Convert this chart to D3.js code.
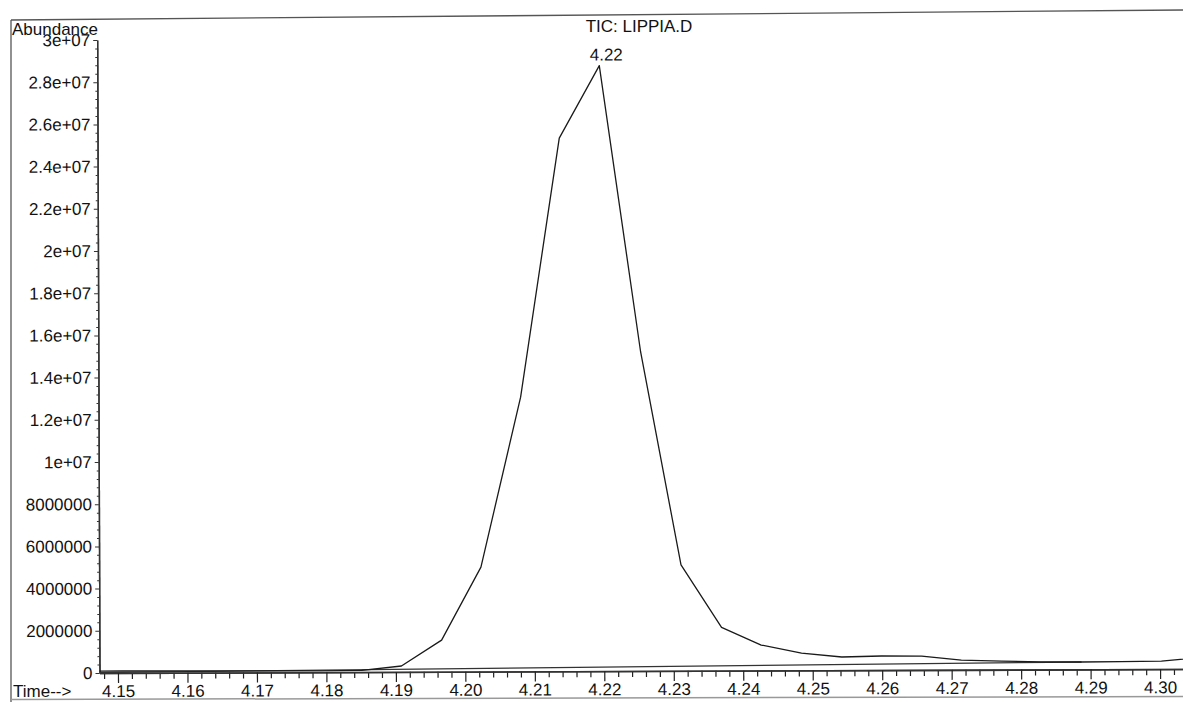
<!DOCTYPE html>
<html>
<head>
<meta charset="utf-8">
<script src="https://cdn.jsdelivr.net/npm/d3@7"></script>
<style>
  html, body { margin: 0; padding: 0; background: #fff; }
  svg { display: block; }
  text { font-family: "Liberation Sans", Arial, Helvetica, sans-serif; fill: #111; }
</style>
</head>
<body>
<svg id="chart" width="1183" height="702"></svg>
<script>
// Total ion chromatogram, one scan every ~0.00576 min (abundance in counts)
const scanTimes = [
  4.1448, 4.1506, 4.1563, 4.1621, 4.1678, 4.1736, 4.1793, 4.1851,
  4.1908, 4.1966, 4.2023, 4.2081, 4.2138, 4.2196, 4.2254, 4.2311,
  4.2369, 4.2426, 4.2484, 4.2542, 4.2599, 4.2657, 4.2714, 4.2772,
  4.2829, 4.2887, 4.2944, 4.3002, 4.3059
];
const abundance = [
  90000, 90000, 85000, 80000, 75000, 70000, 65000, 80000,
  280000, 1500000, 4950000, 13000000, 25270000, 28700000, 15120000, 5020000,
  2050000, 1210000, 820000, 630000, 670000, 660000, 460000, 410000,
  360000, 350000, 360000, 380000, 540000
];

// Integration baseline drawn under the peak
const baselineTimes = [4.14734, 4.2887];
const baselineValues = [20000, 350000];

// Labelled peak apex
const peakTime = 4.2196;
const peakValue = 28700000;
const peakLabel = "4.22";

// Axis ticks
const xMajorTicks = [4.15, 4.16, 4.17, 4.18, 4.19, 4.20, 4.21, 4.22, 4.23, 4.24, 4.25, 4.26, 4.27, 4.28, 4.29, 4.30];
const xTickLabels = ["4.15", "4.16", "4.17", "4.18", "4.19", "4.20", "4.21", "4.22", "4.23", "4.24", "4.25", "4.26", "4.27", "4.28", "4.29", "4.30"];
const yMajorTicks = [0, 2e6, 4e6, 6e6, 8e6, 1e7, 1.2e7, 1.4e7, 1.6e7, 1.8e7, 2e7, 2.2e7, 2.4e7, 2.6e7, 2.8e7, 3e7];
const yTickLabels = ["0", "2000000", "4000000", "6000000", "8000000", "1e+07", "1.2e+07", "1.4e+07", "1.6e+07", "1.8e+07", "2e+07", "2.2e+07", "2.4e+07", "2.6e+07", "2.8e+07", "3e+07"];

const titleText = "TIC: LIPPIA.D";
const yAxisTitle = "Abundance";
const xAxisTitle = "Time-->";

const svg = d3.select("#chart");

// Page frame
const frame = svg.append("g").attr("fill", "none").attr("stroke", "#555");
frame.append("line").attr("x1", 11).attr("y1", 20).attr("x2", 1183).attr("y2", 10).attr("stroke-width", 1.3);
frame.append("line").attr("x1", 11).attr("y1", 20).attr("x2", 11).attr("y2", 702).attr("stroke-width", 1.3);
frame.append("line").attr("x1", 11).attr("y1", 699.5).attr("x2", 1183).attr("y2", 696.5).attr("stroke", "#999").attr("stroke-width", 1.5);

const plotLeft = 99.5, plotRight = 1183, plotTop = 40, plotBottom = 673;

const x = d3.scaleLinear().domain([4.14734, 4.30330]).range([plotLeft, plotRight]);
const y = d3.scaleLinear().domain([0, 3e7]).range([plotBottom, plotTop]);

// The printed trace sits very slightly rotated on the page
const g = svg.append("g").attr("transform", `rotate(-0.21, ${plotLeft}, ${plotBottom})`);

g.append("defs").append("clipPath").attr("id", "plotClip")
  .append("rect").attr("x", plotLeft).attr("y", 0).attr("width", plotRight - plotLeft + 40).attr("height", plotBottom + 1);

// X axis: major ticks every 0.01, minor every 0.002
const xMinor = d3.range(4.148, 4.3031, 0.002).filter(v => !xMajorTicks.some(m => Math.abs(m - v) < 1e-6));
const xAxisMajor = d3.axisBottom(x).tickValues(xMajorTicks)
  .tickFormat((d, i) => xTickLabels[i]).tickSize(10).tickSizeOuter(0).tickPadding(2);
const xAxisMinor = d3.axisBottom(x).tickValues(xMinor).tickFormat("").tickSize(6).tickSizeOuter(0);

const gxMinor = g.append("g").attr("transform", `translate(0,${plotBottom})`).call(xAxisMinor);
const gx = g.append("g").attr("transform", `translate(0,${plotBottom})`).call(xAxisMajor);
[gx, gxMinor].forEach(s => {
  s.select(".domain").attr("stroke", "#333").attr("stroke-width", 1.6);
  s.selectAll(".tick line").attr("stroke", "#222").attr("stroke-width", 1.2);
});
gx.selectAll(".tick text").attr("font-size", 17).attr("fill", "#111")
  .attr("font-family", "'Liberation Sans', Arial, sans-serif");

// Y axis: major every 2e6, minor every 4e5
const yMinor = d3.range(0, 3e7 + 1, 4e5).filter(v => v % 2e6 !== 0);
const yAxisMajor = d3.axisLeft(y).tickValues(yMajorTicks)
  .tickFormat((d, i) => yTickLabels[i]).tickSize(4).tickSizeOuter(0).tickPadding(3);
const yAxisMinor = d3.axisLeft(y).tickValues(yMinor).tickFormat("").tickSize(2).tickSizeOuter(0);

const gyMinor = g.append("g").attr("transform", `translate(${plotLeft},0)`).call(yAxisMinor);
const gy = g.append("g").attr("transform", `translate(${plotLeft},0)`).call(yAxisMajor);
[gy, gyMinor].forEach(s => {
  s.select(".domain").attr("stroke", "#333").attr("stroke-width", 1.4);
  s.selectAll(".tick line").attr("stroke", "#333").attr("stroke-width", 1);
});
gy.selectAll(".tick text").attr("font-size", 17).attr("fill", "#111")
  .attr("font-family", "'Liberation Sans', Arial, sans-serif");

// Baseline and chromatogram trace
const plot = g.append("g").attr("clip-path", "url(#plotClip)");
const line = d3.line().x(d => x(d[0])).y(d => y(d[1]));

plot.append("path")
  .datum(baselineTimes.map((t, i) => [t, baselineValues[i]]))
  .attr("d", line).attr("fill", "none").attr("stroke", "#333").attr("stroke-width", 1.3);

plot.append("path")
  .datum(scanTimes.map((t, i) => [t, abundance[i]]))
  .attr("d", line).attr("fill", "none").attr("stroke", "#1a1a1a").attr("stroke-width", 1.3)
  .attr("stroke-linejoin", "round");

// Peak retention time label
g.append("text")
  .attr("x", x(peakTime) + 7).attr("y", y(peakValue) - 5)
  .attr("text-anchor", "middle").attr("font-size", 17)
  .text(peakLabel);

// Titles
svg.append("text").attr("x", 639).attr("y", 32).attr("text-anchor", "middle")
  .attr("font-size", 17).text(titleText);
svg.append("text").attr("x", 12).attr("y", 35).attr("font-size", 17).text(yAxisTitle);
svg.append("text").attr("x", 13).attr("y", 697).attr("font-size", 17).text(xAxisTitle);
</script>
</body>
</html>
